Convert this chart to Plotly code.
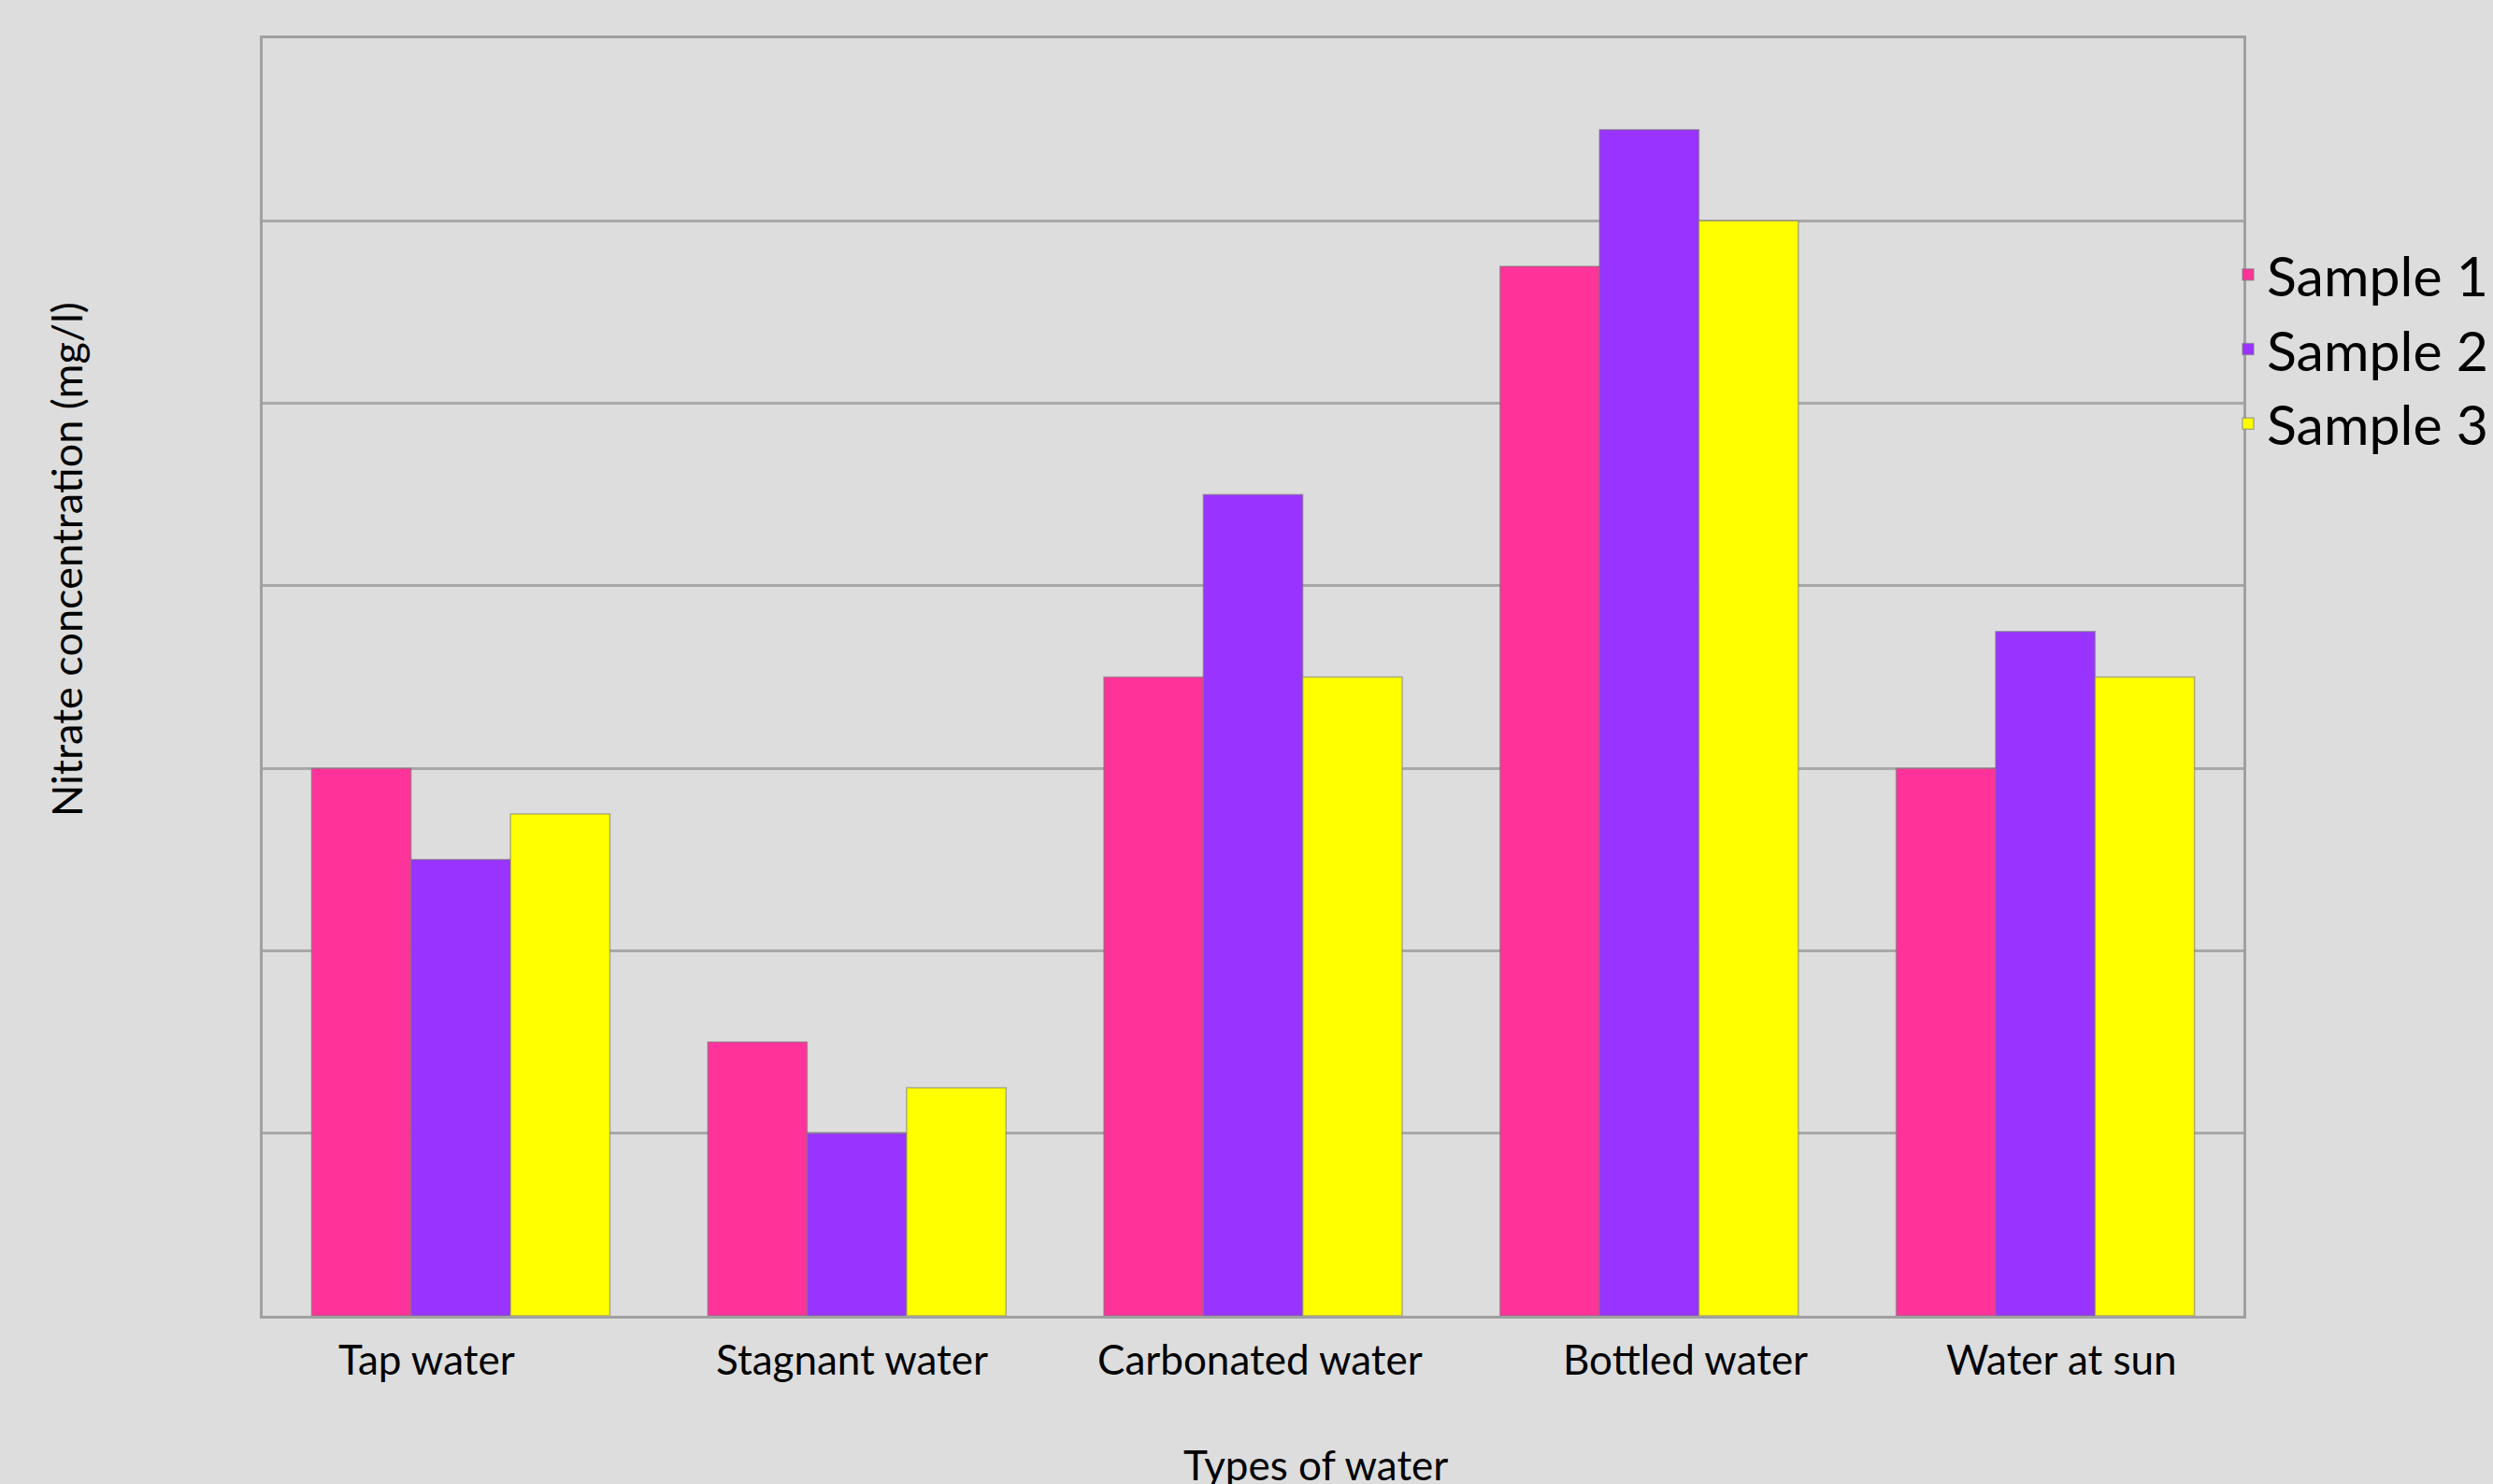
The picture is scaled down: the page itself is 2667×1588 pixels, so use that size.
import plotly.graph_objects as go

categories = ["Tap water", "Stagnant water", "Carbonated water", "Bottled water", "Water at sun"]
sample1 = [3.0, 1.5, 3.5, 5.75, 3.0]
sample2 = [2.5, 1.0, 4.5, 6.5, 3.75]
sample3 = [2.75, 1.25, 3.5, 6.0, 3.5]
series_names = ["Sample 1", "Sample 2", "Sample 3"]
colors = ["#FF3399", "#9933FF", "#FFFF00"]
# horizontal nudges of the category labels as seen in the reference (px)
label_shifts = [-36, -5, 7, 39, 17]

W, H = 2667, 1588
L, R, T, B = 281, 267, 41, 180
pw, ph = W - L - R, H - T - B

fig = go.Figure()
for name, vals, c in zip(series_names, [sample1, sample2, sample3], colors):
    fig.add_trace(go.Bar(
        x=categories, y=vals, name=name,
        marker=dict(color=c, line=dict(color="rgba(120,120,120,0.55)", width=1.5)),
    ))

font_family = "Lato, Carlito, Calibri, sans-serif"

annotations = [
    dict(text=cat, xref="x", yref="paper", x=cat, y=0, yshift=-46,
         xshift=s, xanchor="center", yanchor="middle", showarrow=False,
         font=dict(size=44, family=font_family))
    for cat, s in zip(categories, label_shifts)
]
annotations += [
    dict(text="Types of water", xref="paper", yref="paper",
         x=(1407 - L) / pw, y=(H - B - 1567) / ph,
         xanchor="center", yanchor="middle", showarrow=False,
         font=dict(size=44, family=font_family)),
    dict(text="Nitrate concentration (mg/l)", xref="paper", yref="paper",
         x=(71 - L) / pw, y=(H - B - 599) / ph, textangle=-90,
         xanchor="center", yanchor="middle", showarrow=False,
         font=dict(size=45, family=font_family)),
]

fig.update_layout(
    width=W, height=H,
    margin=dict(l=L, r=R, t=T, b=B, autoexpand=False),
    paper_bgcolor="#dddddd", plot_bgcolor="#dddddd",
    barmode="group", bargap=0.247, bargroupgap=0,
    font=dict(family=font_family, color="#000000"),
    showlegend=True,
    legend=dict(
        xref="container", yref="container",
        x=2385 / W, xanchor="left",
        y=1 - 249 / H, yanchor="top",
        font=dict(size=59, family=font_family),
        bgcolor="rgba(0,0,0,0)", borderwidth=0,
        tracegroupgap=0,
    ),
    xaxis=dict(
        showgrid=False, showline=True, linecolor="#a0a0a0", linewidth=3,
        mirror=True, ticks="", showticklabels=False,
    ),
    yaxis=dict(
        range=[0, 7], dtick=1, showgrid=True, gridcolor="#a8a8a8", gridwidth=3,
        showline=True, linecolor="#a0a0a0", linewidth=3, mirror=True,
        showticklabels=False, ticks="", zeroline=False,
    ),
    annotations=annotations,
)

fig.write_html("out.html")
